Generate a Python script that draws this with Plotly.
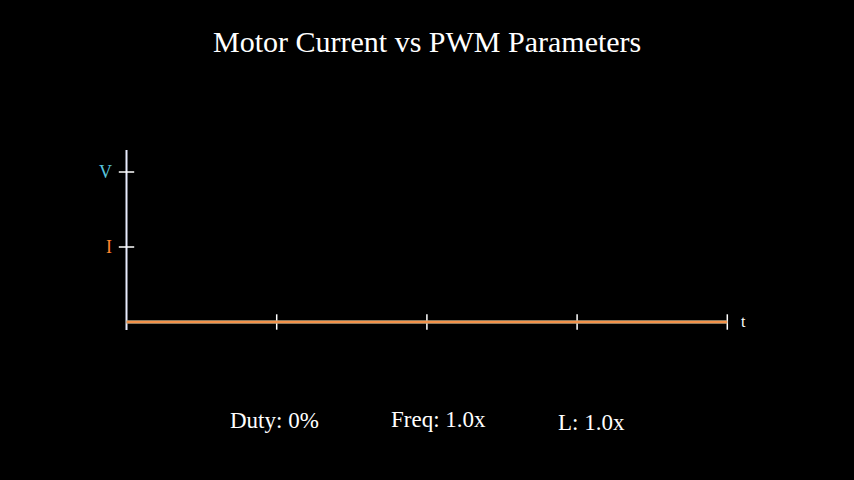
import plotly.graph_objects as go

# ---- data ----
t_values = [0, 4]            # time span shown
current_values = [0, 0]      # motor current (duty 0%)
voltage_values = [0, 0]      # PWM voltage (duty 0%)
x_tick_values = [1, 2, 3, 4]
y_tick_values = [1, 2]
y_tick_labels = ["I", "V"]
y_tick_colors = ["#FF862F", "#58C4DD"]
param_labels = ["Duty: 0%", "Freq: 1.0x", "L: 1.0x"]
title_text = "Motor Current vs PWM Parameters"

W, H = 854, 480
ox, oy = 126.5, 322   # origin in pixels
sx, sy = 150.2, 75.0

xr = [-ox / sx, (W - ox) / sx]
yr = [-(H - oy) / sy, oy / sy]

fig = go.Figure()

serif = "Liberation Serif, Times New Roman, serif"

# axes lines
fig.add_shape(type="line", x0=0, x1=4, y0=0, y1=0, xref="x", yref="y", layer="below",
              line=dict(color="#FFFFFF", width=2))
fig.add_shape(type="line", x0=0, x1=0, y0=-8 / sy, y1=172 / sy, xref="x", yref="y", layer="below",
              line=dict(color="#E8ECFF", width=2))

# ticks
fig.add_trace(go.Scatter(x=x_tick_values, y=[0] * len(x_tick_values), mode="markers",
                         marker=dict(symbol="line-ns", size=11, line=dict(color="#FFFFFF", width=1.5)),
                         hoverinfo="skip", showlegend=False))
fig.add_trace(go.Scatter(x=[0] * len(y_tick_values), y=y_tick_values, mode="markers",
                         marker=dict(symbol="line-ew", size=11, line=dict(color="#FFFFFF", width=1.5)),
                         hoverinfo="skip", showlegend=False))

# series
fig.add_trace(go.Scatter(x=t_values, y=voltage_values, mode="lines",
                         line=dict(color="#58C4DD", width=3), showlegend=False))
fig.add_trace(go.Scatter(x=t_values, y=current_values, mode="lines",
                         line=dict(color="#F4924A", width=3), showlegend=False))

# y tick labels
for v, lab, col in zip(y_tick_values, y_tick_labels, y_tick_colors):
    fig.add_annotation(x=0, y=v, xref="x", yref="y", text=lab, showarrow=False,
                       xanchor="right", xshift=-13, font=dict(family=serif, size=18, color=col))

# t label
fig.add_annotation(x=4, y=0, xref="x", yref="y", text="t", showarrow=False,
                   xanchor="left", xshift=12, yshift=1, font=dict(family=serif, size=16, color="#FFFFFF"))

# title
fig.add_annotation(x=427 / W, y=1 - 41 / H, xref="paper", yref="paper", text=title_text,
                   showarrow=False, xanchor="center", yanchor="middle",
                   font=dict(family=serif, size=30, color="#FFFFFF"))

# parameter labels
param_x = [274, 438, 591]
param_y = [420, 419, 422]
for lab, px, py in zip(param_labels, param_x, param_y):
    fig.add_annotation(x=px / W, y=1 - py / H, xref="paper", yref="paper", text=lab,
                       showarrow=False, xanchor="center", yanchor="middle",
                       font=dict(family=serif, size=23, color="#FFFFFF"))

fig.update_layout(
    width=W, height=H, margin=dict(l=0, r=0, t=0, b=0),
    paper_bgcolor="#000000", plot_bgcolor="#000000",
    xaxis=dict(range=xr, visible=False, fixedrange=True),
    yaxis=dict(range=yr, visible=False, fixedrange=True),
    showlegend=False,
)

fig.write_html(
    "out.html",
    config={"displayModeBar": False},
    post_script="document.body.style.margin='0';document.body.style.background='#000';",
)
